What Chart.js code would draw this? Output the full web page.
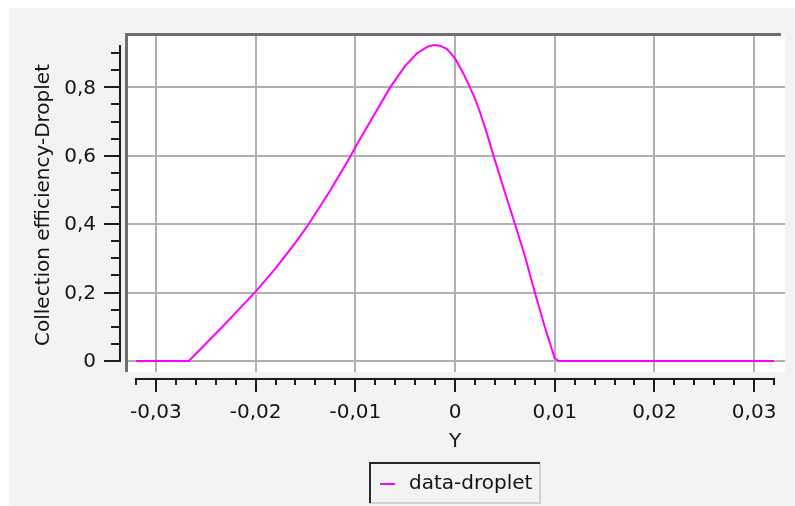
<!DOCTYPE html>
<html>
<head>
<meta charset="utf-8">
<script src="https://cdn.jsdelivr.net/npm/chart.js@4.4.1/dist/chart.umd.min.js"></script>
<style>
  body { margin: 0; background: #ffffff; }
  #caja { width: 795px; height: 506px; }
</style>
</head>
<body>
<div id="caja"><canvas id="Grafico" width="795" height="506"></canvas></div>
<script>
// datos
const posY = [-0.032, -0.0267, -0.0233, -0.02, -0.018, -0.016, -0.0147, -0.0125, -0.0105, -0.01,
              -0.0085, -0.0065, -0.005, -0.0038, -0.0027, -0.0021, -0.0015, -0.0008, 0, 0.0008,
              0.0015, 0.002, 0.0025, 0.0033, 0.0038, 0.0049, 0.006, 0.007, 0.0079, 0.009, 0.01, 0.0104, 0.032];
const eficiencia = [0, 0, 0.101, 0.203, 0.271, 0.346, 0.399, 0.499, 0.598, 0.625,
                    0.7, 0.8, 0.863, 0.9, 0.92, 0.924, 0.922, 0.912, 0.885, 0.843,
                    0.8, 0.768, 0.728, 0.656, 0.606, 0.503, 0.402, 0.308, 0.212, 0.1, 0.008, 0, 0];

const xTicks = [-0.03, -0.02, -0.01, 0, 0.01, 0.02, 0.03];
const xTickLabels = ['-0,03', '-0,02', '-0,01', '0', '0,01', '0,02', '0,03'];
const yTicks = [0, 0.2, 0.4, 0.6, 0.8];
const yTickLabels = ['0', '0,2', '0,4', '0,6', '0,8'];

const tituloX = 'Y';
const tituloY = 'Collection efficiency-Droplet';
const nombreSerie = 'data-droplet';
const colorSerie = '#ff00ff';

const fuente = '20px "DejaVu Sans"';
const colorTexto = '#141414';

// ejes desplazados estilo paraview, con marcas menores
const ejes = {
  id: 'ejes',
  beforeDraw(chart) {
    const c = chart.ctx, a = chart.chartArea;
    c.save();
    c.fillStyle = '#ffffff';
    c.fillRect(0, 0, 795, 506);
    c.fillStyle = '#f3f3f3';
    c.fillRect(9, 8, 786, 498);
    c.fillStyle = '#ffffff';
    c.fillRect(a.left, a.top, a.right - a.left, a.bottom - a.top);
    c.restore();
  },
  afterDraw(chart) {
    const c = chart.ctx, a = chart.chartArea;
    const sx = chart.scales.x, sy = chart.scales.y;
    c.save();

    // borde del area
    c.fillStyle = '#6f6f6f';
    c.fillRect(a.left - 3, a.top - 3, a.right - a.left - 1, 3);
    c.fillRect(a.left - 3, a.top - 3, 3, a.bottom - a.top + 3);

    c.strokeStyle = '#1c1c1c';
    c.fillStyle = colorTexto;
    c.font = fuente;
    c.lineWidth = 2;

    // eje vertical
    const xEje = 120;
    const yMax = Math.max(...eficiencia);
    c.beginPath();
    c.moveTo(xEje, sy.getPixelForValue(yMax));
    c.lineTo(xEje, sy.getPixelForValue(0) + 1);
    c.stroke();
    for (let i = 0; i <= 18; i++) {
      const p = Math.round(sy.getPixelForValue(i * 0.05));
      const largo = (i % 4 === 0) ? 16 : 9;
      c.beginPath();
      c.moveTo(xEje - largo, p);
      c.lineTo(xEje, p);
      c.stroke();
    }
    c.textAlign = 'right';
    c.textBaseline = 'middle';
    yTicks.forEach((v, i) => {
      c.fillText(yTickLabels[i], 96, sy.getPixelForValue(v) + 1);
    });

    // eje horizontal
    const yEje = 379;
    const xMin = Math.min(...posY), xMax = Math.max(...posY);
    c.beginPath();
    c.moveTo(sx.getPixelForValue(xMin) - 1, yEje);
    c.lineTo(sx.getPixelForValue(xMax) + 1, yEje);
    c.stroke();
    for (let k = -16; k <= 16; k++) {
      const p = Math.round(sx.getPixelForValue(k * 0.002));
      const largo = (k % 5 === 0) ? 13 : 6;
      c.beginPath();
      c.moveTo(p, yEje);
      c.lineTo(p, yEje + largo);
      c.stroke();
    }
    c.textAlign = 'center';
    xTicks.forEach((v, i) => {
      c.fillText(xTickLabels[i], sx.getPixelForValue(v), 413);
    });

    // titulos
    c.fillText(tituloX, sx.getPixelForValue(0), 442);
    c.save();
    c.translate(44, 205);
    c.rotate(-Math.PI / 2);
    c.fillText(tituloY, 0, 0);
    c.restore();

    // leyenda
    c.fillStyle = '#f3f3f3';
    c.fillRect(369, 463, 171, 40);
    c.fillStyle = '#d2d2d2';
    c.fillRect(369, 502, 172, 2);
    c.fillRect(539, 463, 2, 41);
    c.fillStyle = '#2a2a2a';
    c.fillRect(369, 462, 171, 2);
    c.fillRect(369, 462, 2, 41);
    c.strokeStyle = colorSerie;
    c.lineWidth = 2;
    c.beginPath();
    c.moveTo(380, 484);
    c.lineTo(395, 484);
    c.stroke();
    c.fillStyle = colorTexto;
    c.textAlign = 'left';
    c.fillText(nombreSerie, 409, 484);

    c.restore();
  }
};

function graficar() {
  const ctx = document.getElementById('Grafico');
  const puntos = posY.map((v, i) => ({ x: v, y: eficiencia[i] }));

  new Chart(ctx, {
    type: 'line',
    data: {
      datasets: [{
        label: nombreSerie,
        data: puntos,
        borderColor: colorSerie,
        borderWidth: 2,
        pointRadius: 0,
        tension: 0,
        fill: false
      }]
    },
    options: {
      responsive: false,
      animation: false,
      devicePixelRatio: 1,
      layout: { padding: { left: 128, top: 36, right: 10, bottom: 134 } },
      plugins: { legend: { display: false }, tooltip: { enabled: false } },
      scales: {
        x: {
          type: 'linear',
          min: -0.0328,
          max: 0.0331,
          afterBuildTicks: s => { s.ticks = xTicks.map(v => ({ value: v })); },
          ticks: { display: false },
          border: { display: false },
          grid: { color: '#b0b0b0', lineWidth: 2, drawTicks: false }
        },
        y: {
          type: 'linear',
          min: -0.0322,
          max: 0.9503,
          afterBuildTicks: s => { s.ticks = yTicks.map(v => ({ value: v })); },
          ticks: { display: false },
          border: { display: false },
          grid: { color: '#b0b0b0', lineWidth: 2, drawTicks: false }
        }
      }
    },
    plugins: [ejes]
  });
}

graficar();
</script>
</body>
</html>
